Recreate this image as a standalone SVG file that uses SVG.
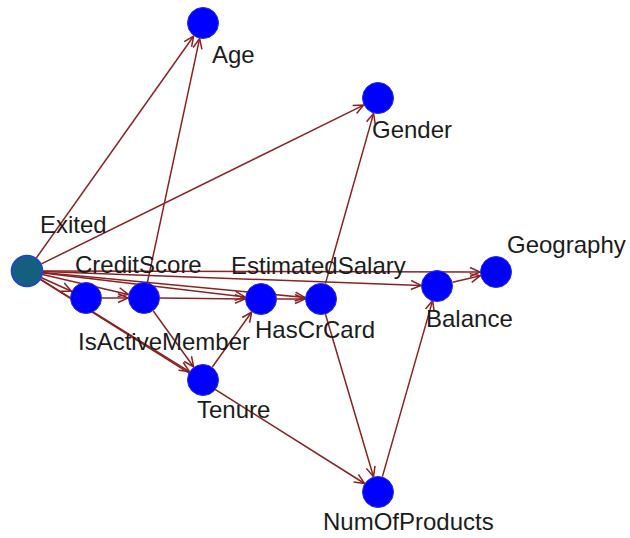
<svg xmlns="http://www.w3.org/2000/svg" width="630" height="538" viewBox="0 0 630 538">
  <style>
    .edge { stroke: #8b2222; stroke-width: 1.5; fill: none; marker-end: url(#arr); }
    .node { fill: #0000ff; stroke: #2a2af0; stroke-width: 1; }
    .root { fill: #145f7e; stroke: #1f3fe8; stroke-width: 1.6; }
    .label { font-family: "Liberation Sans", Arial, sans-serif; font-size: 24px; fill: #1c1c1c; }
  </style>
  <defs>
    <marker id="arr" markerUnits="userSpaceOnUse" markerWidth="14" markerHeight="12" viewBox="-11 -6 12 12" refX="0" refY="0" orient="auto">
      <path d="M-10,-4.5 L0,0 L-10,4.5" fill="none" stroke="#8b2222" stroke-width="1.5"/>
    </marker>
  </defs>
  <rect width="630" height="538" fill="#ffffff"/>

  <g id="connectors">
    <!-- from Exited -->
    <line class="edge" x1="36.3" y1="258" x2="193.7" y2="36"/>
    <line class="edge" x1="41.4" y1="263.9" x2="363.6" y2="105.1"/>
    <line class="edge" x1="43" y1="271" x2="480" y2="272"/>
    <line class="edge" x1="43" y1="271.6" x2="421" y2="285.4"/>
    <line class="edge" x1="41.5" y1="277.7" x2="71.5" y2="291.3"/>
    <line class="edge" x1="42.6" y1="274.6" x2="128.4" y2="294.4"/>
    <line class="edge" x1="42.9" y1="272.9" x2="245.1" y2="297.1"/>
    <line class="edge" x1="42.9" y1="272.5" x2="305.1" y2="297.5"/>
    <line class="edge" x1="40.6" y1="279.4" x2="189.4" y2="371.6"/>
    <line class="edge" x1="40.5" y1="279.5" x2="364.5" y2="483.5"/>
    <!-- IsActiveMember -> CreditScore -->
    <line class="edge" x1="102" y1="298" x2="128" y2="298"/>
    <!-- from CreditScore -->
    <line class="edge" x1="147.4" y1="282.4" x2="199.6" y2="38.6"/>
    <line class="edge" x1="160" y1="298.1" x2="245" y2="298.9"/>
    <line class="edge" x1="153.3" y1="311" x2="193.7" y2="367"/>
    <!-- Tenure -> EstimatedSalary -->
    <line class="edge" x1="212.3" y1="367" x2="251.7" y2="312"/>
    <!-- EstimatedSalary -> HasCrCard -->
    <line class="edge" x1="277" y1="299" x2="305" y2="299"/>
    <!-- from HasCrCard -->
    <line class="edge" x1="325.4" y1="283.6" x2="373.6" y2="113.4"/>
    <line class="edge" x1="325.5" y1="314.3" x2="373.5" y2="476.7"/>
    <!-- NumOfProducts -> Balance -->
    <line class="edge" x1="382.4" y1="476.6" x2="432.6" y2="300.6"/>
    <!-- Balance -> Geography -->
    <line class="edge" x1="452.6" y1="282.3" x2="480.4" y2="275.7"/>
  </g>

  <g id="Exited">
    <circle class="root" cx="27" cy="271" r="15.5"/>
    <text class="label" x="40" y="233">Exited</text>
  </g>
  <g id="Age">
    <circle class="node" cx="203" cy="23" r="15.5"/>
    <text class="label" x="212" y="63">Age</text>
  </g>
  <g id="Gender">
    <circle class="node" cx="378" cy="98" r="15.5"/>
    <text class="label" x="372" y="138">Gender</text>
  </g>
  <g id="Geography">
    <circle class="node" cx="496" cy="272" r="15.5"/>
    <text class="label" x="507" y="253">Geography</text>
  </g>
  <g id="Balance">
    <circle class="node" cx="437" cy="286" r="15.5"/>
    <text class="label" x="426" y="327">Balance</text>
  </g>
  <g id="CreditScore">
    <circle class="node" cx="144" cy="298" r="15.5"/>
    <text class="label" x="75" y="273">CreditScore</text>
  </g>
  <g id="IsActiveMember">
    <circle class="node" cx="86" cy="298" r="15.5"/>
    <text class="label" x="78" y="350">IsActiveMember</text>
  </g>
  <g id="EstimatedSalary">
    <circle class="node" cx="261" cy="299" r="15.5"/>
    <text class="label" x="231" y="274">EstimatedSalary</text>
  </g>
  <g id="HasCrCard">
    <circle class="node" cx="321" cy="299" r="15.5"/>
    <text class="label" x="255" y="338">HasCrCard</text>
  </g>
  <g id="Tenure">
    <circle class="node" cx="203" cy="380" r="15.5"/>
    <text class="label" x="197" y="418">Tenure</text>
  </g>
  <g id="NumOfProducts">
    <circle class="node" cx="378" cy="492" r="15.5"/>
    <text class="label" x="323" y="530">NumOfProducts</text>
  </g>
</svg>
